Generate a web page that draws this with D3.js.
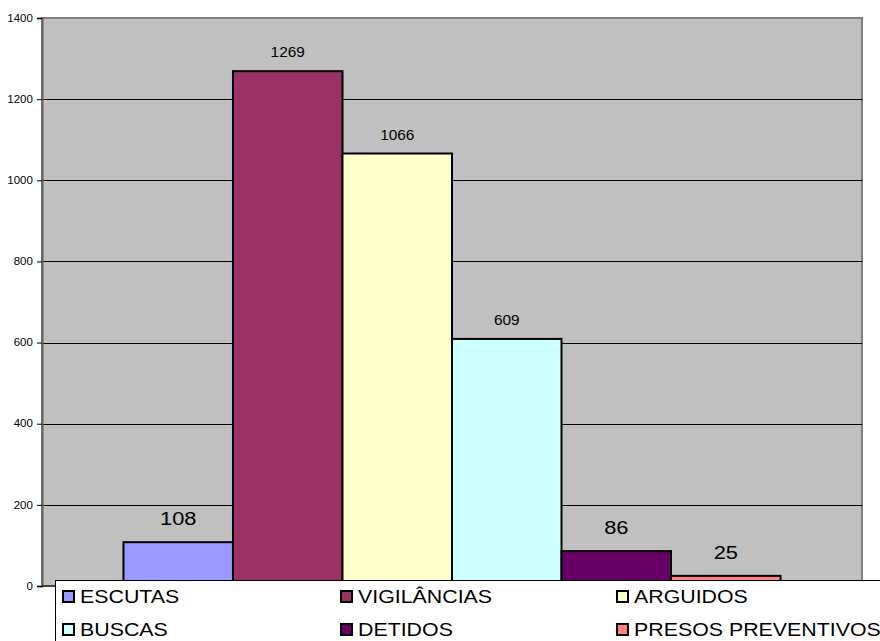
<!DOCTYPE html>
<html>
<head>
<meta charset="utf-8">
<script src="https://cdn.jsdelivr.net/npm/d3@7"></script>
<style>
  html, body { margin: 0; padding: 0; background: #fff; }
  svg { display: block; font-family: "Liberation Sans", Arial, sans-serif; }
</style>
</head>
<body>
<svg id="chart" width="880" height="641"></svg>
<script>
// ---- data ----
const categories = [""];
const seriesNames = ["ESCUTAS", "VIGILÂNCIAS", "ARGUIDOS", "BUSCAS", "DETIDOS", "PRESOS PREVENTIVOS"];
const seriesValues = [108, 1269, 1066, 609, 86, 25];
const yTicks = [0, 200, 400, 600, 800, 1000, 1200, 1400];

// ---- styles ----
const colors = ["#9999FF", "#993366", "#FFFFCC", "#CCFFFF", "#660066", "#FF8080"];
const labelBig = [true, false, false, false, true, true];

const svg = d3.select("#chart");
const plot = { left: 42, right: 862, top: 18, bottom: 586 };

const y = d3.scaleLinear().domain([0, 1400]).range([plot.bottom, plot.top]);
const x0 = d3.scaleBand().domain(categories).range([plot.left, plot.right])
  .paddingInner(0).paddingOuter(0.124);
const x1 = d3.scaleBand().domain(seriesNames).range([0, x0.bandwidth()]).padding(0);

// plot area background
svg.append("rect")
  .attr("x", plot.left).attr("y", plot.top)
  .attr("width", plot.right - plot.left).attr("height", plot.bottom - plot.top)
  .attr("fill", "#C0C0C0").attr("stroke", "#808080").attr("stroke-width", 2);

// gridlines
svg.append("g").selectAll("line")
  .data(yTicks.filter(t => t > 0 && t < 1400))
  .join("line")
  .attr("x1", plot.left).attr("x2", plot.right)
  .attr("y1", d => Math.round(y(d)) + 0.5).attr("y2", d => Math.round(y(d)) + 0.5)
  .attr("stroke", "#000").attr("stroke-width", 1);

// bars
const g = svg.append("g").attr("transform", `translate(${x0("")},0)`);
g.selectAll("rect")
  .data(seriesValues)
  .join("rect")
  .attr("x", (d, i) => x1(seriesNames[i]))
  .attr("y", d => y(d))
  .attr("width", x1.bandwidth())
  .attr("height", d => y(0) - y(d))
  .attr("fill", (d, i) => colors[i])
  .attr("stroke", "#000").attr("stroke-width", 2);

// bar labels
g.selectAll("text.lbl")
  .data(seriesValues)
  .join("text")
  .attr("class", "lbl")
  .attr("text-anchor", "middle")
  .attr("font-size", (d, i) => labelBig[i] ? 18.5 : 14)
  .attr("fill", "#000")
  .attr("transform", (d, i) => {
    const cx = x1(seriesNames[i]) + x1.bandwidth() / 2;
    const cy = y(d) - (labelBig[i] ? 17 : 14);
    return `translate(${cx},${cy}) scale(${labelBig[i] ? 1.18 : 1.1},1)`;
  })
  .text(d => d);

// y axis
const yAxis = d3.axisLeft(y).tickValues(yTicks).tickSize(5).tickPadding(3)
  .tickFormat(d3.format("d"));
const ya = svg.append("g").attr("transform", `translate(${plot.left},0)`).call(yAxis);
ya.select(".domain").attr("stroke", "#606060").attr("stroke-width", 2);
ya.selectAll(".tick line").attr("stroke", "#000");
ya.selectAll(".tick text")
  .attr("font-family", "Liberation Sans, Arial, sans-serif")
  .attr("font-size", 10)
  .attr("fill", "#000")
  .attr("transform", "scale(1.15,1)");

// x axis baseline
svg.append("line")
  .attr("x1", plot.left).attr("x2", plot.right)
  .attr("y1", y(0)).attr("y2", y(0))
  .attr("stroke", "#000").attr("stroke-width", 1);

// legend
const legend = svg.append("g");
legend.append("rect")
  .attr("x", 55.5).attr("y", 580.5).attr("width", 840).attr("height", 80)
  .attr("fill", "#fff").attr("stroke", "#000").attr("stroke-width", 1);

const colX = [62, 340, 616];
const rowY = [590, 623];
const items = legend.selectAll("g.item")
  .data(seriesNames)
  .join("g")
  .attr("class", "item")
  .attr("transform", (d, i) => `translate(${colX[i % 3]},${rowY[Math.floor(i / 3)]})`);
items.append("rect")
  .attr("x", 1).attr("y", 1).attr("width", 11).attr("height", 11)
  .attr("fill", (d, i) => colors[i])
  .attr("stroke", "#000").attr("stroke-width", 2);
items.append("text")
  .attr("transform", "translate(18,13) scale(1.22,1)")
  .attr("font-size", 17.5)
  .attr("fill", "#000")
  .text(d => d);
</script>
</body>
</html>
